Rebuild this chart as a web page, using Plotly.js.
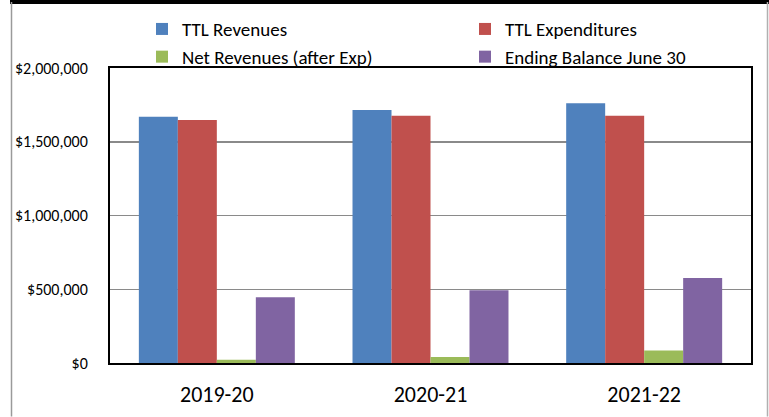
<!DOCTYPE html>
<html>
<head>
<meta charset="utf-8">
<script src="https://cdn.plot.ly/plotly-3.0.1.min.js"></script>
<style>html,body{margin:0;padding:0;background:#fff;}#chart{width:769px;height:417px;}</style>
</head>
<body>
<div id="chart"></div>
<script>
const categories = ["2019-20", "2020-21", "2021-22"];
const ttlRevenues = [1670000, 1716000, 1761000];
const ttlExpenditures = [1648000, 1676000, 1677000];
const netRevenues = [22000, 40000, 84000];
const endingBalance = [445000, 494000, 577000];
const seriesNames = ["TTL Revenues", "TTL Expenditures", "Net Revenues (after Exp)", "Ending Balance June 30"];
const seriesColors = ["#4F81BD", "#C0504D", "#9BBB59", "#8064A2"];
const yTickValues = [0, 500000, 1000000, 1500000, 2000000];

const FONT = "Carlito, 'Liberation Sans Narrow', 'DejaVu Sans Condensed', sans-serif";

const seriesValues = [ttlRevenues, ttlExpenditures, netRevenues, endingBalance];
const legendFor = ["legend", "legend2", "legend", "legend2"];
const traces = seriesValues.map((vals, i) => ({
  type: "bar",
  name: seriesNames[i],
  x: categories,
  y: vals,
  marker: {color: seriesColors[i], line: {width: 0}},
  legend: legendFor[i],
  hoverinfo: "x+y+name"
}));

const L = 110, T = 68, W = 641, H = 295.5;
const px = x => (x - L) / W;
const py = y => 1 + (T - y) / H;

const legendBase = {
  orientation: "v",
  xanchor: "left",
  yanchor: "top",
  bgcolor: "rgba(0,0,0,0)",
  borderwidth: 0,
  font: {family: FONT, size: 19, color: "#000"},
  itemclick: false,
  itemdoubleclick: false,
  tracegroupgap: 0
};

const layout = {
  width: 769,
  height: 417,
  margin: {l: L, r: 769 - L - W, t: T, b: 417 - T - H, pad: 0, autoexpand: false},
  paper_bgcolor: "#fff",
  plot_bgcolor: "#fff",
  barmode: "group",
  bargap: 0.27,
  bargroupgap: 0,
  font: {family: FONT, size: 18, color: "#000"},
  showlegend: true,
  legend: Object.assign({}, legendBase, {x: px(142), y: py(10)}),
  legend2: Object.assign({}, legendBase, {x: px(465), y: py(10)}),
  xaxis: {
    type: "category",
    showline: true, linecolor: "#000", linewidth: 2, mirror: true,
    showgrid: false, zeroline: false,
    ticks: "", ticklabelstandoff: 11,
    tickfont: {family: FONT, size: 22, color: "#000"}
  },
  yaxis: {
    range: [0, 2000000],
    tickvals: yTickValues,
    tickformat: "$,.0f",
    showline: true, linecolor: "#000", linewidth: 2, mirror: true,
    showgrid: true, gridcolor: "#8a8a8a", gridwidth: 1.5,
    zeroline: false,
    ticks: "", ticklabelstandoff: 17,
    tickfont: {family: FONT, size: 16, color: "#000"}
  },
  shapes: [
    {type: "rect", xref: "paper", yref: "paper", x0: px(10), x1: px(769), y0: py(4), y1: py(0),
     fillcolor: "#000", line: {width: 0}, layer: "above"},
    {type: "line", xref: "paper", yref: "paper", x0: px(11.5), x1: px(11.5), y0: py(417), y1: py(2),
     line: {color: "#9a9a9a", width: 1.5}},
    {type: "line", xref: "paper", yref: "paper", x0: px(767.5), x1: px(767.5), y0: py(417), y1: py(2),
     line: {color: "#b0b0b0", width: 1.5}}
  ]
};

Plotly.newPlot("chart", traces, layout, {staticPlot: true, displayModeBar: false});
</script>
</body>
</html>
